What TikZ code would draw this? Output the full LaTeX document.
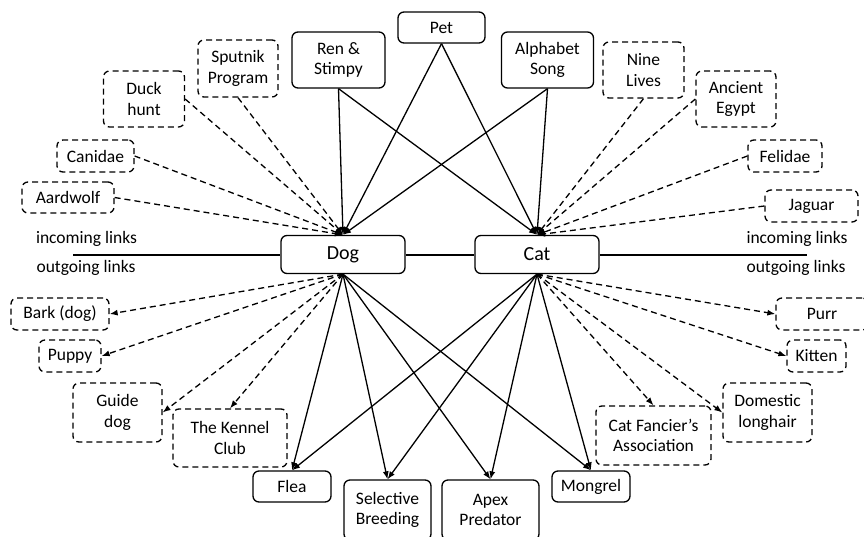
\documentclass[tikz,border=0pt]{standalone}
\usepackage{fontspec}
\setmainfont{Carlito}
\usetikzlibrary{arrows.meta}

\begin{document}
\begin{tikzpicture}[x=1pt,y=-1pt,
  box/.style={draw, rounded corners=6pt, line width=1.3pt, fill=white,
    align=center, inner sep=0pt, font=\fontsize{17.5}{20.5}\selectfont},
  dashbox/.style={box, dash pattern=on 6pt off 4pt},
  hub/.style={box, font=\fontsize{20}{24}\selectfont,
    minimum width=124pt, minimum height=38pt},
  sz/.style 2 args={minimum width=#1pt, minimum height=#2pt},
  lbl/.style={inner sep=0pt, font=\fontsize{17.5}{20.5}\selectfont},
  link/.style={line width=1.3pt},
  divider/.style={line width=2pt},
  dlink/.style={link, dash pattern=on 6pt off 4pt},
  tip/.style={-{Latex[length=8pt,width=6pt]}}
]
\useasboundingbox (0,0) rectangle (864,536);

% central pages
\node[hub] (dog) at (343,254.5) {Dog};
\node[hub] (cat) at (537,254.5) {Cat};

% pages linking to both
\node[box, sz={87}{31}] (pet) at (441.5,27.5) {Pet};
\node[box, sz={93}{56}] (ren) at (338.5,60) {Ren \&\\Stimpy};
\node[box, sz={92}{56}] (alpha) at (547.5,60) {Alphabet\\Song};

% pages linking to Dog only
\node[dashbox, sz={80}{57}] (sput) at (238,68.5) {Sputnik\\Program};
\node[dashbox, sz={81}{56}] (duck) at (144,99) {Duck\\hunt};
\node[dashbox, sz={77}{32}] (canidae) at (95.5,156) {Canidae};
\node[dashbox, sz={92}{31}] (aard) at (68,197.5) {Aardwolf};

% pages linking to Cat only
\node[dashbox, sz={81}{56}] (nine) at (643.5,70) {Nine\\Lives};
\node[dashbox, sz={80}{56}] (egypt) at (736,99) {Ancient\\Egypt};
\node[dashbox, sz={74}{32}] (felidae) at (785,156) {Felidae};
\node[dashbox, sz={93}{32}] (jaguar) at (811.5,206) {Jaguar};

% pages Dog links to
\node[dashbox, sz={98}{32}] (bark) at (60,314) {Bark (dog)};
\node[dashbox, sz={62}{32}] (puppy) at (70,356) {Puppy};
\node[dashbox, sz={89}{59}] (guide) at (117.5,412.5) {Guide\\dog};
\node[dashbox, sz={114}{58}] (kennel) at (230,438) {The Kennel\\Club};

% pages Cat links to
\node[dashbox, sz={92}{32}] (purr) at (822,314) {Purr};
\node[dashbox, sz={59}{32}] (kitten) at (816.5,356) {Kitten};
\node[dashbox, sz={89}{59}] (domestic) at (767.5,412.5) {Domestic\\longhair};
\node[dashbox, sz={115}{59}] (cfa) at (653.5,435.5) {Cat Fancier’s\\Association};

% pages both link to
\node[box, sz={78}{31}] (flea) at (292,486.5) {Flea};
\node[box, sz={87}{60}] (sel) at (387.5,510) {Selective\\Breeding};
\node[box, sz={97}{60}] (apex) at (490.5,510) {Apex\\Predator};
\node[box, sz={78}{31}] (mongrel) at (591,486.5) {Mongrel};

% divider between incoming and outgoing links
\coordinate (lend) at (73,254.5);
\coordinate (rend) at (807,254.5);
\draw[divider] (lend) -- (dog.west);
\draw[divider] (dog.east) -- (cat.west);
\draw[divider] (cat.east) -- (rend);

\node[lbl] (inL) at (86.5,239) {incoming links};
\node[lbl] (outL) at (86,268) {outgoing links};
\node[lbl] (inR) at (797,239) {incoming links};
\node[lbl] (outR) at (796,268) {outgoing links};

% incoming links
\foreach \s in {pet,ren,alpha} {
  \draw[link, tip] (\s.south) -- (dog.north);
  \draw[link, tip] (\s.south) -- (cat.north);
}
\draw[dlink, tip] (sput.south) -- (dog.north);
\draw[dlink, tip] (duck.east) -- (dog.north);
\draw[dlink, tip] (canidae.east) -- (dog.north);
\draw[dlink, tip] (aard.east) -- (dog.north);
\draw[dlink, tip] (nine.south) -- (cat.north);
\draw[dlink, tip] (egypt.west) -- (cat.north);
\draw[dlink, tip] (felidae.west) -- (cat.north);
\draw[dlink, tip] (jaguar.west) -- (cat.north);

% outgoing links
\draw[dlink, tip] (dog.south) -- (bark.east);
\draw[dlink, tip] (dog.south) -- (puppy.east);
\draw[dlink, tip] (dog.south) -- (guide.east);
\draw[dlink, tip] (dog.south) -- (kennel.north);
\draw[dlink, tip] (cat.south) -- (purr.west);
\draw[dlink, tip] (cat.south) -- (kitten.west);
\draw[dlink, tip] (cat.south) -- (domestic.west);
\draw[dlink, tip] (cat.south) -- (cfa.north);
\foreach \t in {flea,sel,apex,mongrel} {
  \draw[link, tip] (dog.south) -- (\t.north);
  \draw[link, tip] (cat.south) -- (\t.north);
}
\end{tikzpicture}
\end{document}
